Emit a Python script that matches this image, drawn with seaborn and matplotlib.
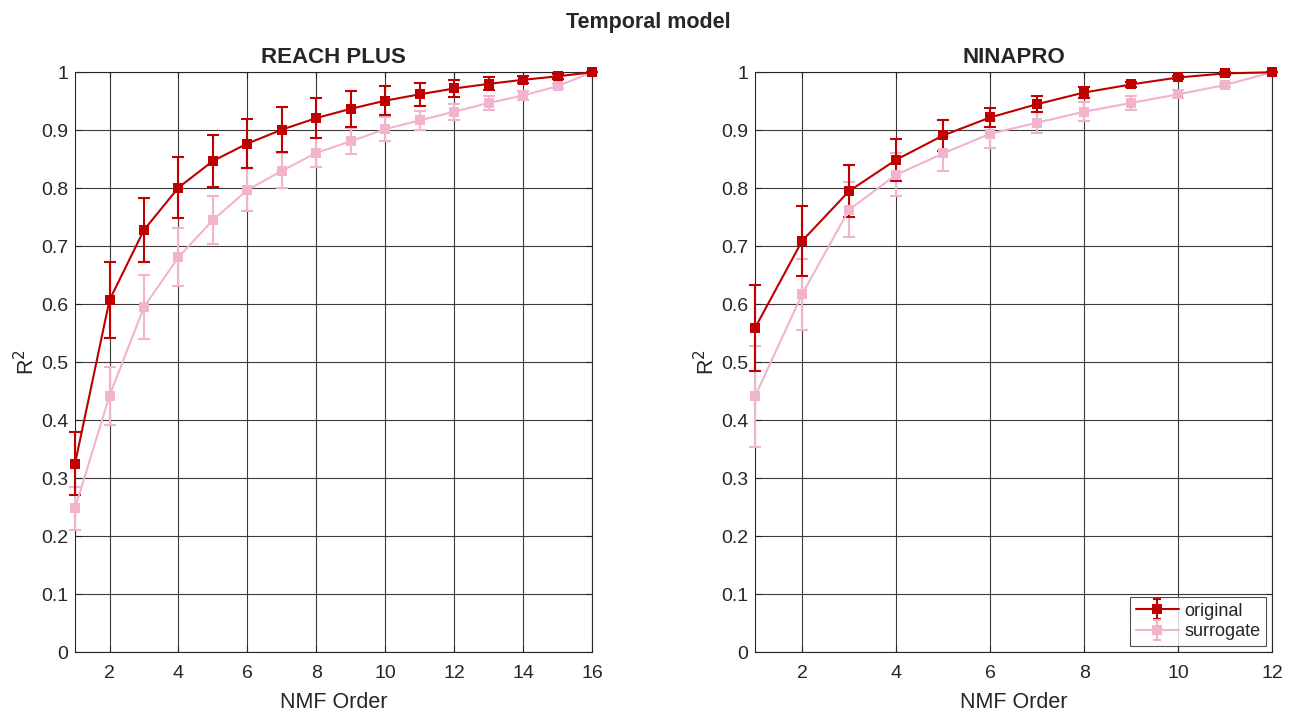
import numpy as np
import pandas as pd
import matplotlib
matplotlib.use("Agg")
import matplotlib.pyplot as plt
import matplotlib.lines as mlines
from matplotlib.path import Path
from matplotlib.legend_handler import HandlerTuple
import seaborn as sns

# ---- data ----
reach_order = list(range(1, 17))
reach_orig_mean = [0.325, 0.607, 0.728, 0.801, 0.847, 0.877, 0.901, 0.921, 0.937, 0.951, 0.962, 0.972, 0.980, 0.987, 0.993, 1.000]
reach_orig_std = [0.055, 0.066, 0.055, 0.052, 0.045, 0.043, 0.039, 0.035, 0.031, 0.025, 0.020, 0.015, 0.011, 0.006, 0.004, 0.0]
reach_surr_mean = [0.248, 0.442, 0.595, 0.681, 0.745, 0.797, 0.830, 0.861, 0.881, 0.902, 0.917, 0.932, 0.947, 0.960, 0.976, 1.000]
reach_surr_std = [0.037, 0.050, 0.055, 0.050, 0.041, 0.037, 0.030, 0.025, 0.022, 0.020, 0.017, 0.014, 0.012, 0.007, 0.004, 0.0]

nina_order = list(range(1, 13))
nina_orig_mean = [0.559, 0.709, 0.795, 0.849, 0.891, 0.922, 0.945, 0.965, 0.979, 0.991, 0.998, 1.000]
nina_orig_std = [0.074, 0.060, 0.045, 0.036, 0.026, 0.017, 0.014, 0.009, 0.004, 0.003, 0.002, 0.0]
nina_surr_mean = [0.441, 0.617, 0.763, 0.823, 0.860, 0.894, 0.913, 0.932, 0.947, 0.962, 0.978, 1.000]
nina_surr_std = [0.087, 0.061, 0.047, 0.037, 0.030, 0.024, 0.018, 0.016, 0.012, 0.007, 0.003, 0.0]

series_labels = ["original", "surrogate"]
panel_titles = ["REACH PLUS", "NINAPRO"]
fig_title = "Temporal model"

colors = {"original": "#C00000", "surrogate": "#F2B3CC"}

def long_df(order, om, os_, sm, ss):
    rows = []
    for lab, m, s in [("original", om, os_), ("surrogate", sm, ss)]:
        for o, mv, sv in zip(order, m, s):
            rows.append({"order": o, "r2": mv, "std": sv, "series": lab})
    return pd.DataFrame(rows)

df_reach = long_df(reach_order, reach_orig_mean, reach_orig_std, reach_surr_mean, reach_surr_std)
df_nina = long_df(nina_order, nina_orig_mean, nina_orig_std, nina_surr_mean, nina_surr_std)

sns.set_theme(style="white")
plt.rcParams["font.family"] = ["Liberation Sans", "DejaVu Sans"]
plt.rcParams["axes.edgecolor"] = "#262626"
plt.rcParams["axes.linewidth"] = 0.8

fig = plt.figure(figsize=(12.96, 7.14), dpi=100)
ax1 = fig.add_axes([0.0579, 0.0868, 0.399, 0.812])
ax2 = fig.add_axes([0.5826, 0.0868, 0.399, 0.812])

# errorbar-shaped legend marker (vertical bar with caps)
ebar_path = Path([(0, -1), (0, 1), (-0.45, 1), (0.45, 1), (-0.45, -1), (0.45, -1)],
                 [Path.MOVETO, Path.LINETO, Path.MOVETO, Path.LINETO, Path.MOVETO, Path.LINETO])

def draw(ax, df, order, title, legend=False):
    for lab in ["surrogate", "original"]:
        d = df[df.series == lab]
        ax.errorbar(d["order"], d["r2"], yerr=d["std"], fmt="none",
                    ecolor=colors[lab], elinewidth=1.5, capsize=4.5, capthick=1.5,
                    zorder=3, clip_on=False)
    n_before = len(ax.lines)
    sns.lineplot(data=df, x="order", y="r2", hue="series", hue_order=["surrogate", "original"],
                 palette=colors, marker="s", markersize=6.5, markeredgewidth=0,
                 linewidth=1.5, ax=ax, legend=False, zorder=4)
    for ln in ax.lines[n_before:]:
        ln.set_clip_on(False)
    ax.set_xlim(order[0], order[-1])
    ax.set_ylim(0, 1)
    ax.set_xticks(list(range(2, order[-1] + 1, 2)))
    yt = np.round(np.arange(0, 1.01, 0.1), 1)
    ax.set_yticks(yt)
    ax.set_yticklabels(["0" if v == 0 else ("1" if v == 1 else f"{v:g}") for v in yt])
    ax.grid(True, color="#3a3a3a", linewidth=0.8)
    ax.set_axisbelow(True)
    ax.tick_params(axis="both", labelsize=14, colors="#262626", direction="in", length=4, width=0.8,
                   top=True, right=True, bottom=True, left=True)
    ax.tick_params(axis="x", pad=9.5)
    ax.tick_params(axis="y", pad=5)
    ax.set_xlabel("NMF Order", fontsize=15.5, color="#262626", labelpad=7)
    ax.set_ylabel("R$^2$", fontsize=15.5, color="#262626", labelpad=1)
    ax.set_title(title, fontsize=16, fontweight="bold", pad=7)
    for sp in ax.spines.values():
        sp.set_visible(True)
    if legend:
        handles = []
        for lab in series_labels:
            ln = mlines.Line2D([], [], color=colors[lab], marker="s", markersize=6.5,
                               markeredgewidth=0, linewidth=1.5)
            bar = mlines.Line2D([], [], color=colors[lab], marker=ebar_path, markersize=14,
                                markeredgewidth=1.5, linestyle="none", fillstyle="none")
            handles.append((bar, ln))
        leg = ax.legend(handles, series_labels, loc="lower right", fontsize=13,
                        frameon=True, fancybox=False, edgecolor="#262626",
                        borderpad=0.3, handlelength=2.4, handletextpad=0.3,
                        labelspacing=0.2, borderaxespad=0.35,
                        handler_map={tuple: HandlerTuple(ndivide=1, pad=0)})
        leg.get_frame().set_linewidth(0.8)

draw(ax1, df_reach, reach_order, panel_titles[0])
draw(ax2, df_nina, nina_order, panel_titles[1], legend=True)

fig.suptitle(fig_title, fontsize=15.5, fontweight="bold", y=0.983)

fig.savefig("out.png", dpi=100)
